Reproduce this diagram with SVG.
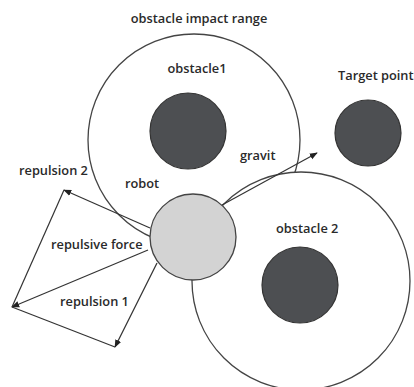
<svg xmlns="http://www.w3.org/2000/svg" width="414" height="387" viewBox="0 0 414 387">
<defs>
<marker id="ah" viewBox="0 0 10 10" refX="9" refY="5" markerWidth="8" markerHeight="8" markerUnits="userSpaceOnUse" orient="auto">
<path d="M0,1 L10,5 L0,9 Z" fill="#222"/>
</marker>
<style>
.rng{fill:#fff;stroke:#444;stroke-width:1.3}
.obs{fill:#4d4f52;stroke:#333;stroke-width:1.2}
.rob{fill:#d3d3d3;stroke:#444;stroke-width:1.3}
.ln{stroke:#333;stroke-width:1.2;fill:none}
.ar{stroke:#333;stroke-width:1.2;fill:none;marker-end:url(#ah)}
text{font-family:"Open Sans","Liberation Sans",Arial,sans-serif;font-size:12.8px;font-weight:600;fill:#2a2a2a}
</style>
</defs>
<rect width="414" height="387" fill="#fff"/>
<g id="range1"><circle class="rng" cx="194" cy="140" r="106"/></g>
<g id="obstacle1"><circle class="obs" cx="188" cy="131" r="38"/></g>
<g id="range2"><circle class="rng" cx="301" cy="281" r="109"/></g>
<g id="obstacle2"><circle class="obs" cx="300" cy="285" r="38"/></g>
<g id="target"><circle class="obs" cx="368" cy="133" r="33"/></g>
<g id="connectors">
<line class="ar" x1="222" y1="205" x2="317" y2="153"/>
<line class="ar" x1="150" y1="228" x2="64" y2="190"/>
<line class="ar" x1="148" y1="250" x2="12" y2="307"/>
<line class="ar" x1="157" y1="263" x2="115" y2="347"/>
<line class="ln" x1="64" y1="190" x2="12" y2="307"/>
<line class="ln" x1="12" y1="307" x2="115" y2="347"/>
</g>
<g id="robot"><circle class="rob" cx="193" cy="237" r="43"/></g>
<g id="labels">
<text x="199" y="23" text-anchor="middle">obstacle impact range</text>
<text x="197" y="73" text-anchor="middle">obstacle1</text>
<text x="338" y="80">Target point</text>
<text x="240" y="160">gravit</text>
<text x="19" y="175">repulsion 2</text>
<text x="125" y="188">robot</text>
<text x="51" y="249">repulsive force</text>
<text x="60" y="306">repulsion 1</text>
<text x="276" y="233">obstacle 2</text>
</g>
</svg>
